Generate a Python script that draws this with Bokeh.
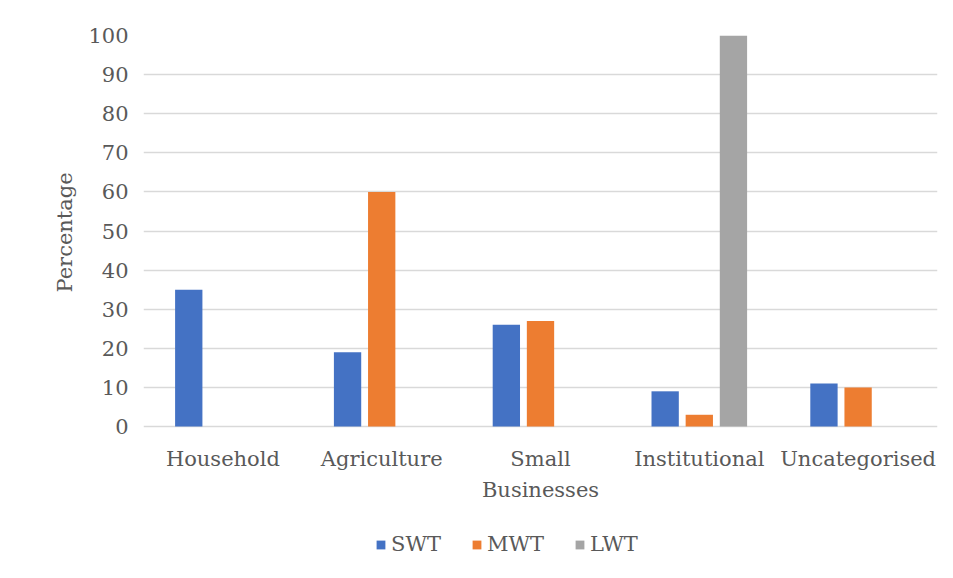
from bokeh.plotting import figure
from bokeh.models import (FactorRange, Legend, LegendItem, Range1d, ColumnDataSource, Title)
from bokeh.transform import dodge
from bokeh.core.properties import value
from bokeh.embed import file_html
from bokeh.resources import INLINE

categories = ["Household", "Agriculture", "Small Businesses", "Institutional", "Uncategorised"]
label_line1 = ["Household", "Agriculture", "Small", "Institutional", "Uncategorised"]
label_line2 = ["", "", "Businesses", "", ""]
series_names = ["SWT", "MWT", "LWT"]
swt = [35, 19, 26, 9, 11]
mwt = [0, 60, 27, 3, 10]
lwt = [0, 0, 0, 100, 0]
y_ticks = list(range(0, 101, 10))
colors = ["#4472C4", "#ED7D31", "#A5A5A5"]

src = ColumnDataSource(dict(cat=categories, SWT=swt, MWT=mwt, LWT=lwt,
                            l1=label_line1, l2=label_line2))

FONT = "DejaVu Serif"
TXT = "#595959"
FS = "21px"

# frame spans the whole lower area; value 0 sits 152 px above the bottom edge
PX_PER_UNIT = (426 - 35) / 100.0
p = figure(width=953, height=578, x_range=FactorRange(*categories, range_padding=0),
           y_range=Range1d(-152 / PX_PER_UNIT, 100), output_backend="svg", toolbar_location=None,
           x_axis_location=None,
           min_border_left=143, min_border_right=16, min_border_top=35, min_border_bottom=0)

offsets = [-0.215, 0.0, 0.215]
renderers = []
for name, col, off in zip(series_names, colors, offsets):
    r = p.vbar(x=dodge("cat", off, range=p.x_range), top=name, bottom=0, width=0.172, source=src,
               fill_color=col, line_color=None)
    renderers.append(r)

p.outline_line_color = None
p.background_fill_color = "white"
p.border_fill_color = "white"

p.xgrid.grid_line_color = None
p.ygrid.grid_line_color = "#d9d9d9"
p.ygrid.grid_line_width = 1.3
p.yaxis.ticker = y_ticks

p.yaxis.axis_line_color = None
p.yaxis.major_tick_line_color = None
p.yaxis.major_tick_out = 0
p.yaxis.major_tick_in = 0
p.yaxis.minor_tick_line_color = None
p.yaxis.major_label_text_font = FONT
p.yaxis.major_label_text_font_size = FS
p.yaxis.major_label_text_color = TXT
p.yaxis.major_label_standoff = 15

ytitle = Title(text="Percentage", align="left", offset=286, standoff=18,
               text_font=FONT, text_font_size=FS, text_font_style="normal", text_color=TXT)
p.add_layout(ytitle, "left")

# category labels (two lines for the wrapped one)
p.text(x="cat", y=0, text="l1", source=src, y_offset=32,
       text_align="center", text_baseline="middle",
       text_font=value(FONT), text_font_size=value(FS), text_color=TXT)
p.text(x="cat", y=0, text="l2", source=src, y_offset=63,
       text_align="center", text_baseline="middle",
       text_font=value(FONT), text_font_size=value(FS), text_color=TXT)

legend = Legend(items=[LegendItem(label=n, renderers=[r]) for n, r in zip(series_names, renderers)],
                orientation="horizontal", location=(232, 22),
                glyph_width=11, glyph_height=11, spacing=30, label_standoff=5,
                label_text_font=FONT, label_text_font_size=FS, label_text_color=TXT,
                border_line_color=None, background_fill_alpha=0, padding=4, margin=0)
p.add_layout(legend, "center")

open("out.html", "w").write(file_html(p, INLINE))
